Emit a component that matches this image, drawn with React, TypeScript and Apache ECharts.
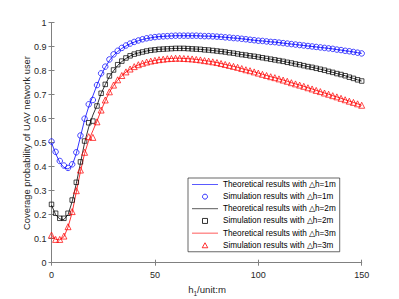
import React, { useEffect, useRef } from "react";
import * as echarts from "echarts";

const H = [0,2,4,6,8,10,12,14,16,18,20,22,24,26,28,30,32,34,36,38,40,42,44,46,48,50,52,54,56,58,60,62,64,66,68,70,72,74,76,78,80,82,84,86,88,90,92,94,96,98,100,102,104,106,108,110,112,114,116,118,120,122,124,126,128,130,132,134,136,138,140,142,144,146,148,150];

const TAIL1 = [.946,.946,.946,.946,.946,.946,.945,.944,.944,.943,.942,.941,.939,.938,.936,.935,.933,.931,.929,.927,.925,.924,.922,.920,.919,.917,.915,.913,.911,.909,.907,.905,.903,.901,.899,.897,.895,.893,.891,.888,.886,.883,.881,.878,.875,.872];
const TAIL2 = [.893,.893,.893,.892,.891,.890,.889,.887,.886,.884,.882,.880,.878,.875,.873,.870,.867,.865,.862,.860,.857,.854,.851,.848,.845,.842,.839,.835,.832,.828,.825,.821,.817,.814,.810,.806,.802,.797,.793,.788,.784,.779,.773,.768,.762,.757];
const TAIL3 = [.852,.852,.851,.850,.849,.847,.845,.842,.840,.837,.834,.830,.826,.822,.818,.814,.809,.804,.800,.795,.790,.785,.780,.775,.771,.766,.761,.756,.750,.745,.740,.735,.729,.724,.718,.713,.707,.702,.696,.691,.685,.679,.673,.668,.662,.656];

const theo1 = [.50,.455,.418,.397,.39,.405,.455,.525,.595,.65,.695,.74,.782,.814,.842,.864,.88,.893,.903,.912,.919,.925,.93,.934,.937,.94,.942,.943,.944,.945, ...TAIL1];
const sim1 = [.505,.462,.424,.405,.395,.41,.46,.53,.60,.66,.678,.74,.789,.817,.847,.868,.883,.895,.905,.913,.92,.926,.931,.935,.938,.94,.942,.943,.944,.945, ...TAIL1];
const theo2 = [.24,.20,.182,.18,.20,.255,.33,.415,.50,.565,.615,.655,.705,.742,.775,.80,.822,.838,.851,.861,.869,.874,.878,.882,.885,.887,.889,.890,.891,.892, ...TAIL2];
const sim2 = [.243,.206,.185,.185,.206,.261,.335,.42,.507,.583,.59,.653,.706,.743,.778,.803,.825,.84,.853,.862,.869,.874,.878,.882,.885,.887,.889,.890,.891,.892, ...TAIL2];
const theo3 = [.115,.097,.095,.108,.148,.21,.295,.38,.455,.51,.55,.59,.635,.675,.71,.738,.76,.779,.794,.806,.816,.824,.83,.835,.839,.843,.846,.848,.850,.851, ...TAIL3];
const sim3 = [.115,.097,.097,.111,.15,.213,.30,.386,.46,.525,.522,.587,.636,.678,.712,.74,.762,.78,.795,.807,.817,.825,.831,.836,.840,.843,.846,.848,.850,.851, ...TAIL3];

const NAMES = [
  "Theoretical results with \u25B3h=1m",
  "Simulation results with \u25B3h=1m",
  "Theoretical results with \u25B3h=2m",
  "Simulation results with \u25B3h=2m",
  "Theoretical results with \u25B3h=3m",
  "Simulation results with \u25B3h=3m",
];
const COLORS = ["#0000ff", "#000000", "#ff0000"];
const Y_NAME = "Coverage probability of UAV network user";

const pair = (v: number[]) => H.map((h, i) => [h, v[i]]);

const LINE_ICON = "path://M0,0H40V1H0Z";
const SQUARE_ICON = "path://M0,0H10V10H0Z";
const TRI_ICON = "path://M5,0L10,9L0,9Z";

export default function App() {
  const ref = useRef<HTMLDivElement>(null);
  useEffect(() => {
    if (!ref.current) return;
    const chart = echarts.init(ref.current, null, { renderer: "svg" });
    const font = "'Liberation Sans', Arial, sans-serif";
    const axisLine = { show: true, lineStyle: { color: "#808080", width: 1 } };
    const tick = { inside: true, length: 3, lineStyle: { color: "#808080" } };
    const lineSeries = (name: string, data: number[], color: string) => ({
      name, type: "line", data: pair(data), symbol: "none", showSymbol: false,
      lineStyle: { color, width: 0.8 }, itemStyle: { color }, z: 2,
    });
    const simSeries = (name: string, data: number[], color: string, symbol: string, size: number) => ({
      name, type: "scatter", data: pair(data), symbol, symbolSize: size,
      itemStyle: { color: "none", borderColor: color, borderWidth: 0.9 }, z: 3,
    });
    const hollow = (c: string) => ({ color: "none", borderColor: c, borderWidth: 1 });
    chart.setOption({
      animation: false,
      backgroundColor: "#fff",
      grid: { left: 51.5, right: 37.3, top: 22.7, bottom: 36.3, containLabel: false, outerBoundsMode: "none" },
      graphic: [
        {
          type: "text", x: 26, y: 143, rotation: Math.PI / 2,
          style: { text: Y_NAME, fontFamily: font, fontSize: 9.4, fill: "#262626", align: "center", verticalAlign: "middle" },
        },
        {
          type: "text", x: 207, y: 289,
          style: {
            text: "h{sub|1}/unit:m", fontFamily: font, fontSize: 9.6, fill: "#262626", align: "center", verticalAlign: "middle",
            rich: { sub: { fontSize: 6.5, fontFamily: font, fill: "#262626", padding: [8, 0, 0, 0] } },
          },
        },
      ],
      legend: {
        orient: "vertical", left: 188, top: 178,
        itemWidth: 26, itemHeight: 5, itemGap: 1.15,
        padding: [1, 4, 1, 4],
        borderColor: "#262626", borderWidth: 0.7, backgroundColor: "#fff",
        textStyle: { fontFamily: font, fontSize: 8.2, color: "#000", lineHeight: 11 },
        data: [
          { name: NAMES[0], icon: LINE_ICON, itemStyle: { color: COLORS[0], borderWidth: 0 } },
          { name: NAMES[1], icon: "circle", itemStyle: hollow(COLORS[0]) },
          { name: NAMES[2], icon: LINE_ICON, itemStyle: { color: COLORS[1], borderWidth: 0 } },
          { name: NAMES[3], icon: SQUARE_ICON, itemStyle: hollow(COLORS[1]) },
          { name: NAMES[4], icon: LINE_ICON, itemStyle: { color: COLORS[2], borderWidth: 0 } },
          { name: NAMES[5], icon: TRI_ICON, itemStyle: hollow(COLORS[2]) },
        ],
      },
      xAxis: [
        {
          type: "value", min: 0, max: 150, interval: 50,
          axisLine, axisTick: tick,
          axisLabel: { fontFamily: font, fontSize: 9, color: "#262626", margin: 8 },
          splitLine: { show: false },
        },
        {
          type: "value", min: 0, max: 150, interval: 50, position: "top",
          axisLine, axisTick: tick, axisLabel: { show: false }, splitLine: { show: false },
        },
      ],
      yAxis: [
        {
          type: "value", min: 0, max: 1, interval: 0.1,
          axisLine, axisTick: tick,
          axisLabel: { fontFamily: font, fontSize: 9, color: "#262626", margin: 5, showMaxLabel: true, showMinLabel: true,
            formatter: (v: number) => String(Math.round(v * 10) / 10) },
          splitLine: { show: false },
        },
        {
          type: "value", min: 0, max: 1, interval: 0.1, position: "right",
          axisLine, axisTick: tick, axisLabel: { show: false }, splitLine: { show: false },
        },
      ],
      series: [
        lineSeries(NAMES[0], theo1, COLORS[0]),
        simSeries(NAMES[1], sim1, COLORS[0], "circle", 5.5),
        lineSeries(NAMES[2], theo2, COLORS[1]),
        simSeries(NAMES[3], sim2, COLORS[1], "rect", 4.5),
        lineSeries(NAMES[4], theo3, COLORS[2]),
        simSeries(NAMES[5], sim3, COLORS[2], "triangle", 6),
      ],
    });
    return () => chart.dispose();
  }, []);
  return <div ref={ref} style={{ width: 399, height: 299, position: "absolute", left: 0, top: 0 }} />;
}
